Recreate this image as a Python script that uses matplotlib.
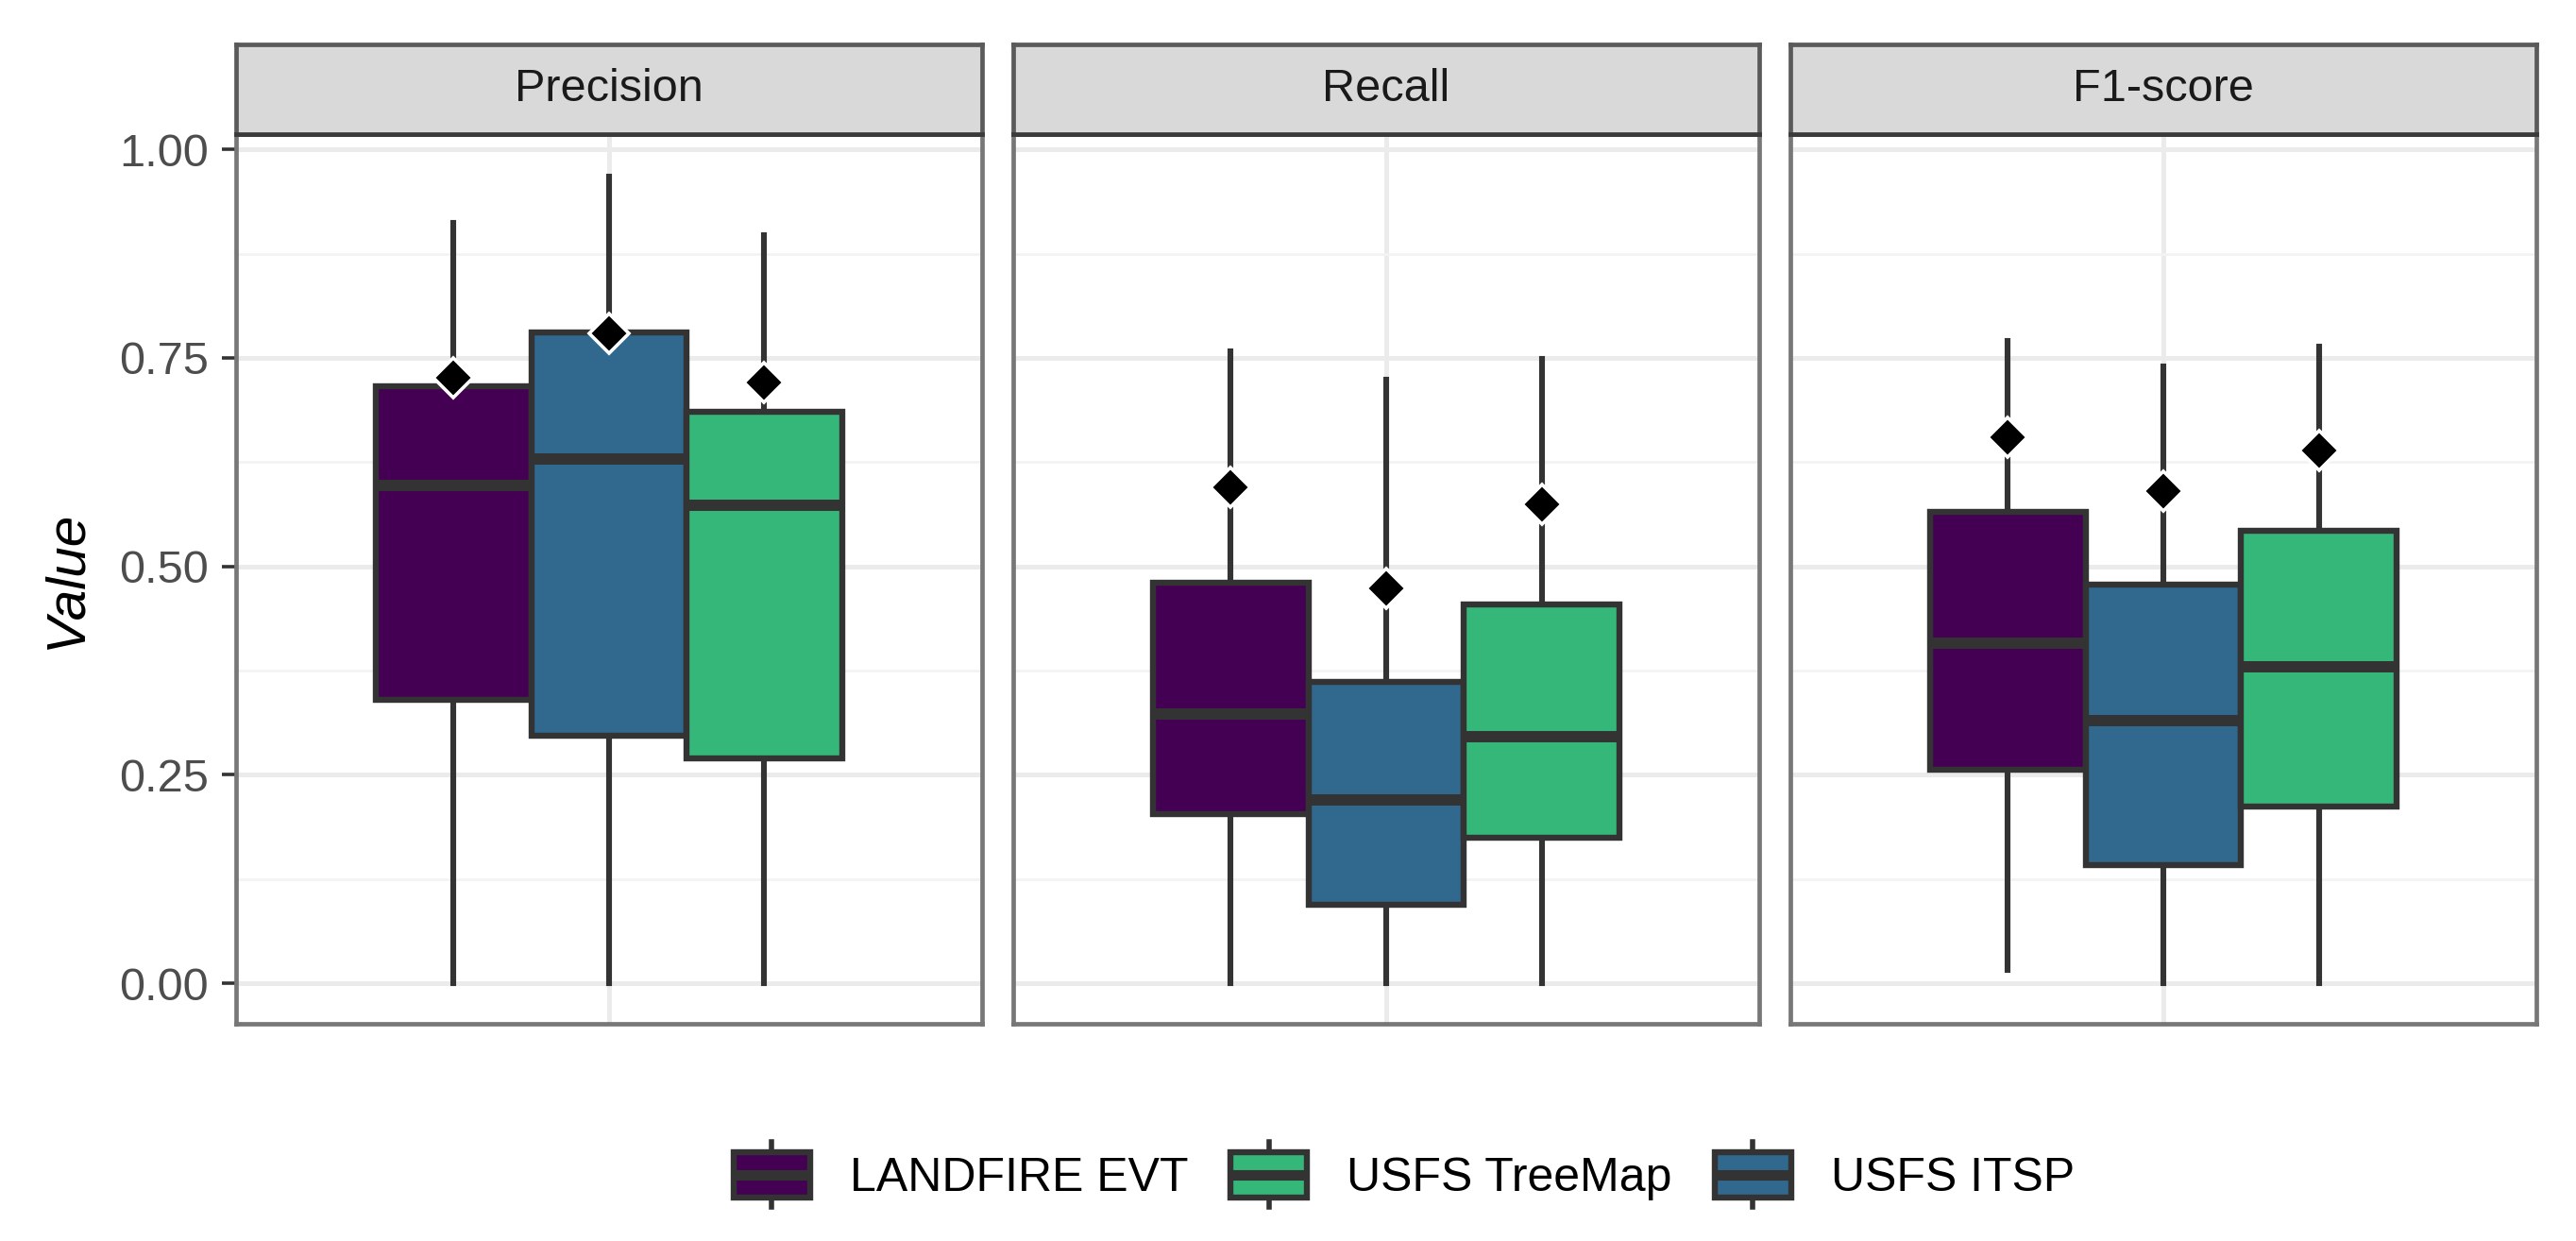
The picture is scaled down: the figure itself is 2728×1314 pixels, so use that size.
import matplotlib
matplotlib.use("Agg")
import matplotlib.pyplot as plt
from matplotlib.patches import Rectangle
from matplotlib.lines import Line2D
from matplotlib.legend_handler import HandlerBase

# ---- data ----
metrics = ["Precision", "Recall", "F1-score"]
products = ["LANDFIRE EVT", "USFS ITSP", "USFS TreeMap"]
legend_order = ["LANDFIRE EVT", "USFS TreeMap", "USFS ITSP"]
colors = {"LANDFIRE EVT": "#440154", "USFS ITSP": "#31688E", "USFS TreeMap": "#35B779"}

# per metric, per product (order of `products`)
whislo = {"Precision": [0.0, 0.0, 0.0], "Recall": [0.0, 0.0, 0.0], "F1-score": [0.016, 0.0, 0.0]}
q1 = {"Precision": [0.34, 0.297, 0.27], "Recall": [0.203, 0.094, 0.175], "F1-score": [0.256, 0.142, 0.212]}
med = {"Precision": [0.597, 0.629, 0.573], "Recall": [0.323, 0.22, 0.296], "F1-score": [0.408, 0.315, 0.38]}
q3 = {"Precision": [0.716, 0.781, 0.686], "Recall": [0.48, 0.362, 0.454], "F1-score": [0.565, 0.478, 0.543]}
whishi = {"Precision": [0.912, 0.968, 0.897], "Recall": [0.758, 0.724, 0.749], "F1-score": [0.77, 0.74, 0.764]}
means = {"Precision": [0.726, 0.779, 0.721], "Recall": [0.595, 0.474, 0.574], "F1-score": [0.655, 0.59, 0.639]}

yticks = [0.0, 0.25, 0.5, 0.75, 1.0]
ytick_labels = ["0.00", "0.25", "0.50", "0.75", "1.00"]
ylabel = "Value"

plt.rcParams['font.family'] = ['Liberation Sans', 'DejaVu Sans']

fig = plt.figure(figsize=(13.64, 6.57), dpi=200)

panel_lefts = [0.0916, 0.3933, 0.6950]
panel_w = 0.2896
panel_bottom = 0.175
panel_top = 0.892
strip_top = 0.9642
border_col = "#777777"
edge_col = "#333333"

axes = []
for i, m in enumerate(metrics):
    ax = fig.add_axes([panel_lefts[i], panel_bottom, panel_w, panel_top - panel_bottom])
    axes.append(ax)
    ax.set_xlim(0.4, 1.6)
    ax.set_ylim(-0.0485, 1.0185)
    ax.set_yticks(yticks)
    ax.set_yticks([0.125, 0.375, 0.625, 0.875], minor=True)
    ax.set_xticks([1.0])
    ax.grid(True, which="major", color="#EBEBEB", lw=1.8, zorder=0)
    ax.grid(True, which="minor", axis="y", color="#F3F3F3", lw=1.0, zorder=0)
    ax.set_axisbelow(True)
    for s in ax.spines.values():
        s.set_color(border_col)
        s.set_linewidth(1.7)
    ax.spines["top"].set_color("#3a3a3a")
    ax.tick_params(axis="x", length=0, labelbottom=False)
    if i == 0:
        ax.set_yticklabels(ytick_labels)
        ax.tick_params(axis="y", which="major", length=5.4, width=1.3, color="#333333",
                       labelsize=17.5, labelcolor="#4d4d4d", pad=5)
        ax.tick_params(axis="y", which="minor", length=0)
    else:
        ax.tick_params(axis="y", which="both", length=0, labelleft=False)

    stats = []
    for j, p in enumerate(products):
        stats.append(dict(med=med[m][j], q1=q1[m][j], q3=q3[m][j],
                          whislo=whislo[m][j], whishi=whishi[m][j],
                          mean=means[m][j], fliers=[]))
    positions = [0.75, 1.0, 1.25]
    bp = ax.bxp(stats, positions=positions, widths=0.25, showmeans=True,
                showcaps=False, patch_artist=True, manage_ticks=False,
                boxprops=dict(edgecolor=edge_col, linewidth=2.3),
                medianprops=dict(color=edge_col, linewidth=4.3, solid_capstyle="butt"),
                whiskerprops=dict(color=edge_col, linewidth=2.2),
                meanprops=dict(marker="D", markerfacecolor="black", markeredgecolor="white",
                               markeredgewidth=1.3, markersize=10.5))
    for patch, p in zip(bp["boxes"], products):
        patch.set_facecolor(colors[p])
        patch.set_zorder(3)
    for ln in bp["whiskers"]:
        ln.set_zorder(2)
    for ln in bp["medians"]:
        ln.set_zorder(4)
    for ln in bp["means"]:
        ln.set_zorder(5)

    # strip
    sax = fig.add_axes([panel_lefts[i], panel_top, panel_w, strip_top - panel_top])
    sax.set_facecolor("#D9D9D9")
    sax.set_xticks([])
    sax.set_yticks([])
    for s in sax.spines.values():
        s.set_color("#5a5a5a")
        s.set_linewidth(1.7)
    sax.spines["bottom"].set_color("#3a3a3a")
    sax.text(0.5, 0.5, m, ha="center", va="center", fontsize=17.5, color="#1a1a1a",
             transform=sax.transAxes)

fig.text(0.026, panel_bottom + (panel_top - panel_bottom) / 2, ylabel, rotation=90,
         ha="center", va="center", fontsize=21, style="italic", color="black")


class BoxHandler(HandlerBase):
    def create_artists(self, legend, orig_handle, xdescent, ydescent, width, height, fontsize, trans):
        fc = orig_handle.get_facecolor()
        x0 = -xdescent
        y0 = -ydescent
        cx = x0 + width / 2
        rect = Rectangle((x0, y0), width, height, facecolor=fc, edgecolor=edge_col,
                         linewidth=2.3, transform=trans)
        medl = Line2D([x0, x0 + width], [y0 + height / 2] * 2, color=edge_col, lw=4.0,
                      transform=trans, solid_capstyle="butt")
        wt = Line2D([cx, cx], [y0 + height, y0 + height * 1.22], color=edge_col, lw=2.0, transform=trans)
        wb = Line2D([cx, cx], [y0 - height * 0.22, y0], color=edge_col, lw=2.0, transform=trans)
        return [wt, wb, rect, medl]


handles = [Rectangle((0, 0), 1, 1, facecolor=colors[p]) for p in legend_order]
fig.legend(handles, legend_order, handler_map={Rectangle: BoxHandler()},
           loc="center", bbox_to_anchor=(0.545, 0.0525), ncol=3, frameon=False,
           fontsize=18, handlelength=1.62, handleheight=1.1, handletextpad=0.84,
           columnspacing=0.9)

fig.savefig("out.png", dpi=200, facecolor="white")
